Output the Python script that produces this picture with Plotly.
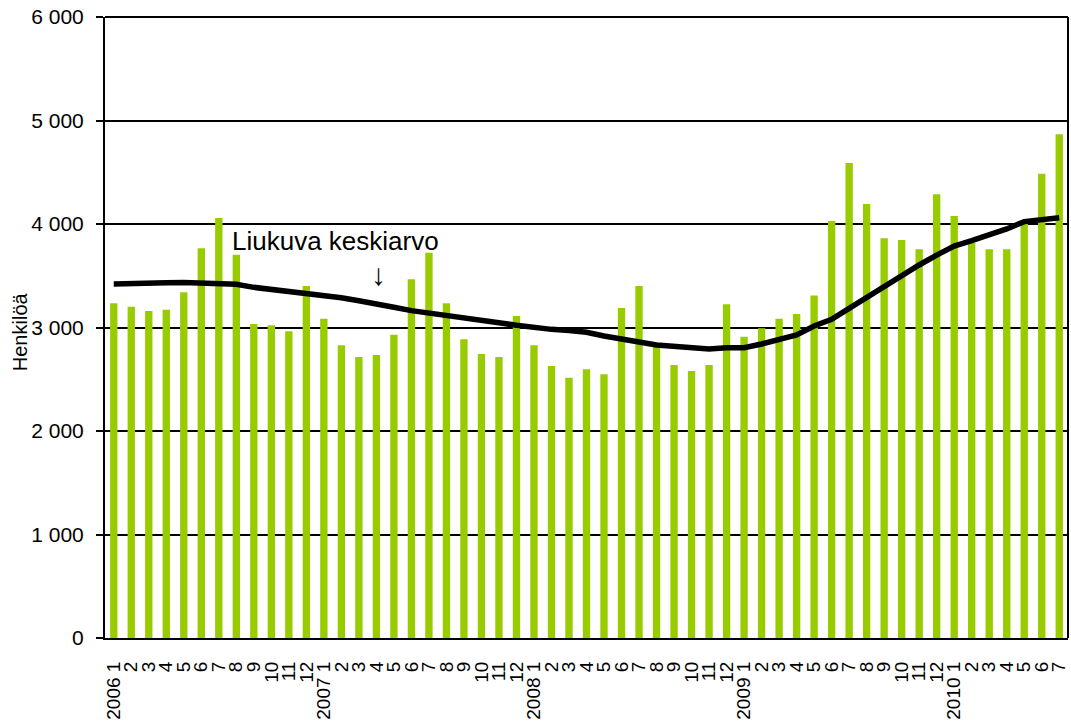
import plotly.graph_objects as go

tick_labels = [
    "2006 1", "2", "3", "4", "5", "6", "7", "8", "9", "10", "11", "12",
    "2007 1", "2", "3", "4", "5", "6", "7", "8", "9", "10", "11", "12",
    "2008 1", "2", "3", "4", "5", "6", "7", "8", "9", "10", "11", "12",
    "2009 1", "2", "3", "4", "5", "6", "7", "8", "9", "10", "11", "12",
    "2010 1", "2", "3", "4", "5", "6", "7",
]

persons = [
    3234, 3201, 3159, 3172, 3340, 3765, 4058, 3703, 3034, 3021, 2963, 3401,
    3085, 2828, 2715, 2734, 2931, 3466, 3723, 3234, 2886, 2744, 2715, 3111,
    2828, 2628, 2515, 2597, 2548, 3188, 3401, 2815, 2638, 2580, 2638, 3224,
    2911, 2992, 3085, 3130, 3308, 4029, 4589, 4193, 3862, 3845, 3755, 4287,
    4077, 3820, 3755, 3755, 4020, 4486, 4867,
]

moving_avg = [
    3420, 3420, 3420, 3432, 3435, 3425, 3420, 3418, 3388, 3369, 3356, 3336,
    3320, 3288, 3259, 3221, 3195, 3163, 3137, 3111, 3085, 3066, 3046, 3021,
    2998, 2982, 2972, 2954, 2918, 2895, 2860, 2831, 2815, 2802, 2792, 2805,
    2805, 2841, 2879, 2928, 3014, 3079, 3185, 3291, 3394, 3507, 3604, 3700,
    3787, 3839, 3894, 3952, 4023, 4048, 4061,
]

y_ticks = [0, 1000, 2000, 3000, 4000, 5000, 6000]
y_tick_text = ["0", "1 000", "2 000", "3 000", "4 000", "5 000", "6 000"]

x = list(range(len(tick_labels)))
FONT = "Liberation Sans, Arial, sans-serif"

fig = go.Figure()
fig.add_trace(go.Bar(x=x, y=persons, marker=dict(color="#99CC00", line=dict(width=0)),
                     name="Henkilöä", showlegend=False))
fig.add_trace(go.Scatter(x=x, y=moving_avg, mode="lines",
                         line=dict(color="black", width=5.5), showlegend=False,
                         name="Liukuva keskiarvo"))

fig.update_layout(
    width=1071, height=722,
    margin=dict(l=105, r=3, t=17, b=84),
    paper_bgcolor="white", plot_bgcolor="white",
    bargap=0.58,
    font=dict(family=FONT, size=19, color="black"),
    xaxis=dict(
        tickmode="array", tickvals=x, ticktext=tick_labels, tickangle=-90,
        range=[-0.5, len(x) - 0.5], showgrid=False, showline=True,
        linecolor="black", linewidth=2, mirror=False, ticks="",
        tickfont=dict(size=19, family=FONT), ticklabelstandoff=14,
        automargin=False,
    ),
    yaxis=dict(
        range=[0, 6000], tickmode="array", tickvals=y_ticks, ticktext=y_tick_text,
        showgrid=True, gridcolor="black", gridwidth=1.5,
        showline=True, linecolor="black", linewidth=2,
        ticks="outside", ticklen=7, tickcolor="black", tickwidth=1.5,
        tickfont=dict(size=21, family=FONT), ticklabelstandoff=8,
        zeroline=False, automargin=False,
    ),
    shapes=[
        dict(type="line", xref="paper", yref="paper", x0=1, x1=1, y0=0, y1=1,
             line=dict(color="black", width=2)),
        dict(type="line", xref="paper", yref="paper", x0=0, x1=1, y0=1, y1=1,
             line=dict(color="black", width=2)),
    ],
    annotations=[
        dict(text="Henkilöä", xref="paper", yref="paper", x=-0.0883, y=0.494,
             textangle=-90, showarrow=False, xanchor="center", yanchor="middle",
             font=dict(size=20, family=FONT, color="black")),
        dict(text="Liukuva keskiarvo", xref="paper", yref="paper", x=0.2398, y=0.639,
             showarrow=False, xanchor="center", yanchor="middle",
             font=dict(size=26, family=FONT, color="black")),
        dict(text="↓", xref="paper", yref="paper", x=0.2845, y=0.586,
             showarrow=False, xanchor="center", yanchor="middle",
             font=dict(size=30, family=FONT, color="black")),
    ],
)

fig.write_html("out.html", config={"displayModeBar": False},
               post_script="document.body.style.margin='0';document.body.style.padding='0';")
